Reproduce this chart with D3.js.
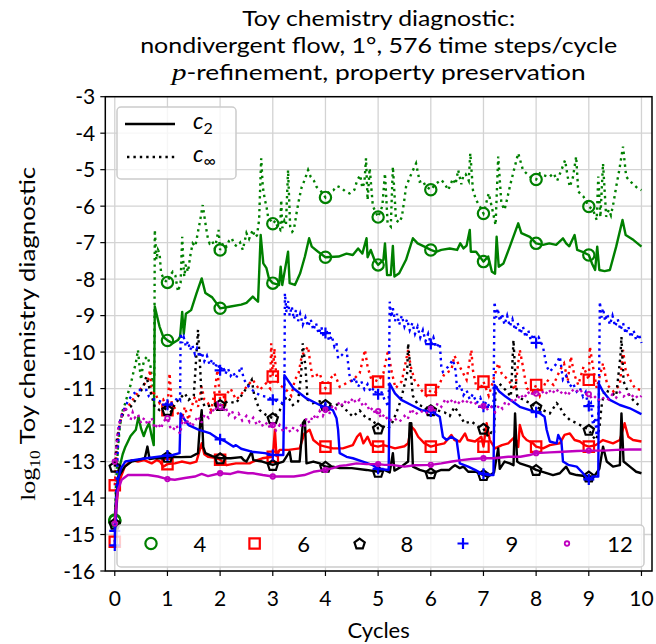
<!DOCTYPE html>
<html><head><meta charset="utf-8">
<script src="https://cdn.jsdelivr.net/npm/d3@7"></script>
<style>body{margin:0;background:#fff}svg text{font-family:Lato,"Noto Sans",sans-serif;fill:#000}</style>
</head><body><svg id="c" width="656" height="644"></svg>
<script>
const xTicks=[0,1,2,3,4,5,6,7,8,9,10];
const yTicks=[-16,-15,-14,-13,-12,-11,-10,-9,-8,-7,-6,-5,-4,-3];
const orders=["4","6","8","9","12"];
const markerCycles=[0,1,2,3,4,5,6,7,8,9];

const green_c2=[[0,-14.63],[0.03,-14.0],[0.06,-13.5],[0.1,-13.1],[0.15,-12.8],[0.2,-12.6],[0.3,-12.3],[0.4,-12.13],[0.45,-11.77],[0.5,-12.1],[0.55,-12.3],[0.6,-12.1],[0.65,-11.95],[0.7,-12.3],[0.74,-12.55],[0.76,-8.75],[0.8,-9.0],[0.85,-9.3],[0.92,-9.58],[1.0,-9.68],[1.1,-9.76],[1.2,-9.67],[1.24,-9.58],[1.28,-8.9],[1.31,-9.5],[1.35,-8.95],[1.45,-8.85],[1.55,-8.4],[1.65,-7.98],[1.72,-8.38],[1.85,-8.5],[2.0,-8.8],[2.2,-8.75],[2.4,-8.7],[2.5,-8.65],[2.62,-8.48],[2.72,-8.62],[2.77,-6.79],[2.82,-7.57],[2.88,-7.7],[2.93,-8.0],[3.0,-8.11],[3.12,-8.16],[3.15,-7.66],[3.18,-8.16],[3.29,-7.25],[3.32,-8.11],[3.42,-8.16],[3.52,-7.84],[3.61,-7.38],[3.69,-6.88],[3.74,-7.11],[3.86,-7.25],[4.0,-7.4],[4.25,-7.38],[4.4,-7.3],[4.52,-7.34],[4.62,-7.16],[4.7,-7.3],[4.78,-6.88],[4.8,-7.4],[4.86,-7.2],[4.93,-7.47],[5.0,-7.61],[5.1,-7.47],[5.13,-7.02],[5.17,-7.89],[5.24,-7.89],[5.28,-7.09],[5.31,-7.93],[5.4,-7.84],[5.53,-7.47],[5.66,-6.88],[5.75,-7.02],[5.88,-7.11],[6.0,-7.2],[6.1,-7.25],[6.2,-7.2],[6.36,-7.16],[6.5,-7.2],[6.56,-7.02],[6.62,-7.16],[6.68,-7.08],[6.74,-6.65],[6.76,-7.25],[6.86,-7.25],[7.0,-7.52],[7.09,-7.38],[7.16,-7.8],[7.22,-7.85],[7.25,-6.84],[7.29,-7.66],[7.38,-7.57],[7.5,-7.11],[7.66,-6.47],[7.72,-6.74],[7.88,-6.84],[8.0,-7.02],[8.13,-7.06],[8.25,-7.02],[8.38,-7.06],[8.51,-6.88],[8.57,-7.02],[8.63,-7.1],[8.73,-6.79],[8.78,-7.2],[8.88,-7.25],[9.0,-7.34],[9.06,-7.57],[9.12,-7.75],[9.16,-7.11],[9.2,-7.75],[9.3,-7.78],[9.4,-7.75],[9.52,-7.11],[9.64,-6.38],[9.7,-6.79],[9.85,-6.93],[10.0,-7.11]];
const green_cinf=[[0,-14.6],[0.03,-13.5],[0.06,-12.6],[0.1,-12.0],[0.15,-11.6],[0.2,-11.4],[0.25,-11.13],[0.3,-10.9],[0.35,-10.58],[0.4,-10.3],[0.44,-9.94],[0.47,-10.4],[0.5,-10.76],[0.53,-10.4],[0.56,-10.21],[0.62,-10.12],[0.68,-10.4],[0.72,-10.94],[0.75,-10.7],[0.76,-6.65],[0.79,-7.47],[0.82,-7.2],[0.85,-7.29],[0.88,-7.84],[0.94,-8.02],[1.0,-8.09],[1.05,-7.9],[1.1,-7.8],[1.15,-7.9],[1.2,-8.34],[1.25,-8.1],[1.28,-6.84],[1.3,-7.5],[1.32,-7.93],[1.35,-7.6],[1.39,-7.8],[1.44,-7.3],[1.48,-7.02],[1.53,-7.1],[1.58,-6.7],[1.62,-6.4],[1.67,-5.97],[1.73,-6.56],[1.77,-6.9],[1.8,-7.02],[1.85,-6.95],[1.9,-7.16],[1.97,-6.65],[2.0,-7.2],[2.06,-7.0],[2.12,-7.11],[2.17,-6.95],[2.22,-6.88],[2.27,-7.05],[2.32,-7.1],[2.38,-7.0],[2.43,-7.2],[2.5,-6.74],[2.55,-6.9],[2.62,-6.65],[2.66,-6.85],[2.7,-6.8],[2.74,-6.38],[2.78,-4.69],[2.81,-5.47],[2.85,-5.83],[2.88,-6.0],[2.91,-6.29],[3.0,-6.48],[3.05,-6.4],[3.1,-6.6],[3.14,-6.65],[3.16,-5.83],[3.18,-6.6],[3.22,-6.4],[3.25,-6.5],[3.29,-5.01],[3.33,-6.56],[3.37,-6.7],[3.4,-6.65],[3.45,-6.2],[3.5,-5.8],[3.55,-5.47],[3.6,-5.3],[3.67,-5.01],[3.72,-5.2],[3.78,-5.3],[3.83,-5.47],[3.92,-5.6],[4.0,-5.76],[4.07,-5.6],[4.15,-5.56],[4.22,-5.45],[4.3,-5.5],[4.38,-5.6],[4.46,-5.65],[4.55,-5.55],[4.6,-5.3],[4.66,-5.15],[4.7,-5.5],[4.74,-5.35],[4.77,-4.69],[4.8,-5.83],[4.84,-4.96],[4.9,-6.0],[5.0,-6.3],[5.08,-6.0],[5.13,-5.1],[5.18,-6.47],[5.24,-6.56],[5.28,-4.92],[5.34,-6.38],[5.4,-6.45],[5.45,-6.3],[5.5,-5.8],[5.53,-5.47],[5.62,-5.15],[5.72,-4.83],[5.79,-5.33],[5.85,-5.3],[5.9,-5.45],[6.0,-5.55],[6.1,-5.38],[6.2,-5.28],[6.27,-5.4],[6.33,-5.56],[6.42,-5.25],[6.47,-5.4],[6.52,-5.01],[6.58,-5.4],[6.62,-5.15],[6.66,-5.12],[6.72,-5.3],[6.75,-4.55],[6.8,-5.56],[6.86,-5.83],[6.93,-6.0],[7.0,-6.2],[7.1,-5.65],[7.17,-6.1],[7.23,-6.52],[7.28,-4.64],[7.34,-5.92],[7.4,-6.1],[7.45,-5.8],[7.5,-5.47],[7.58,-5.0],[7.66,-4.55],[7.75,-5.01],[7.88,-5.19],[8.0,-5.27],[8.07,-5.1],[8.13,-5.15],[8.25,-5.2],[8.33,-5.1],[8.4,-5.3],[8.48,-5.01],[8.55,-4.74],[8.6,-5.2],[8.64,-5.47],[8.7,-5.2],[8.76,-4.64],[8.8,-5.6],[8.9,-5.74],[9.0,-6.01],[9.08,-6.1],[9.15,-6.38],[9.18,-5.19],[9.22,-6.3],[9.27,-4.83],[9.33,-6.29],[9.38,-6.1],[9.42,-6.25],[9.47,-5.9],[9.52,-5.47],[9.58,-5.0],[9.65,-4.37],[9.71,-5.19],[9.77,-5.3],[9.83,-5.38],[9.92,-5.5],[10.0,-5.56]];
const red_c2=[[0,-15.2],[0.03,-14.3],[0.07,-13.6],[0.19,-13.14],[0.32,-12.96],[0.44,-13.0],[0.56,-12.96],[0.7,-13.05],[0.8,-12.96],[0.86,-13.0],[0.92,-13.14],[1.0,-13.07],[1.14,-13.05],[1.27,-13.0],[1.43,-13.05],[1.55,-13.0],[1.65,-12.5],[1.7,-12.8],[1.77,-12.87],[1.9,-12.9],[2.0,-12.95],[2.12,-13.1],[2.3,-13.05],[2.56,-13.05],[2.63,-13.0],[2.8,-12.91],[3.0,-12.87],[3.04,-12.13],[3.07,-12.85],[3.13,-12.68],[3.3,-12.68],[3.51,-12.64],[3.6,-12.23],[3.7,-12.13],[3.77,-12.41],[3.89,-12.55],[4.0,-12.59],[4.14,-12.64],[4.33,-12.64],[4.52,-12.55],[4.6,-12.32],[4.66,-12.23],[4.72,-12.5],[4.8,-12.32],[4.87,-12.55],[5.0,-12.59],[5.1,-12.55],[5.23,-12.6],[5.32,-12.64],[5.5,-12.58],[5.57,-12.5],[5.63,-12.04],[5.69,-12.13],[5.76,-12.32],[5.88,-12.5],[6.0,-12.59],[6.1,-12.55],[6.26,-12.5],[6.39,-12.27],[6.45,-12.41],[6.55,-12.45],[6.65,-12.23],[6.7,-12.41],[6.84,-12.45],[6.96,-12.32],[7.0,-12.59],[7.06,-11.95],[7.12,-12.41],[7.22,-12.64],[7.35,-12.55],[7.47,-12.5],[7.6,-12.32],[7.66,-12.6],[7.69,-12.0],[7.75,-12.3],[7.82,-12.41],[7.94,-12.5],[8.0,-12.59],[8.13,-12.64],[8.26,-12.55],[8.45,-12.5],[8.54,-12.27],[8.64,-12.23],[8.73,-12.41],[8.83,-12.45],[8.92,-12.55],[9.0,-12.59],[9.13,-12.55],[9.27,-12.41],[9.46,-12.5],[9.59,-12.41],[9.68,-11.95],[9.75,-12.32],[9.84,-12.41],[10.0,-12.45]];
const red_cinf=[[0,-13.65],[0.03,-12.8],[0.08,-12.1],[0.15,-11.6],[0.25,-11.5],[0.38,-11.22],[0.5,-10.99],[0.63,-10.76],[0.67,-10.49],[0.7,-11.2],[0.76,-11.1],[0.85,-11.4],[0.92,-11.3],[1.0,-11.59],[1.04,-10.58],[1.08,-11.4],[1.2,-11.68],[1.27,-11.86],[1.33,-11.5],[1.4,-11.86],[1.46,-11.5],[1.52,-11.22],[1.58,-11.5],[1.65,-10.95],[1.7,-11.3],[1.77,-11.4],[1.83,-11.6],[1.9,-11.04],[1.95,-10.49],[2.0,-11.31],[2.1,-11.2],[2.2,-11.0],[2.3,-11.3],[2.37,-11.22],[2.5,-10.95],[2.62,-10.76],[2.75,-11.04],[2.87,-10.86],[2.95,-11.0],[2.97,-9.76],[3.0,-10.67],[3.03,-9.9],[3.07,-10.76],[3.13,-10.9],[3.26,-11.04],[3.35,-11.2],[3.42,-10.76],[3.49,-10.58],[3.55,-10.1],[3.67,-9.85],[3.72,-10.4],[3.76,-10.7],[3.89,-10.58],[3.95,-10.85],[4.0,-10.99],[4.08,-10.76],[4.17,-10.58],[4.27,-10.95],[4.4,-10.85],[4.52,-10.76],[4.65,-10.58],[4.75,-9.94],[4.8,-10.4],[4.86,-10.7],[5.0,-10.81],[5.1,-10.58],[5.19,-9.94],[5.25,-10.5],[5.33,-10.99],[5.45,-10.8],[5.57,-9.94],[5.62,-10.4],[5.69,-10.76],[5.82,-11.04],[5.92,-11.2],[6.0,-11.04],[6.1,-11.1],[6.2,-10.76],[6.26,-10.6],[6.39,-10.49],[6.45,-10.1],[6.55,-10.4],[6.68,-10.76],[6.77,-9.94],[6.8,-10.5],[6.87,-10.99],[6.93,-11.04],[7.0,-10.81],[7.1,-11.2],[7.22,-10.6],[7.28,-10.31],[7.35,-10.6],[7.47,-10.76],[7.6,-11.04],[7.69,-9.94],[7.75,-10.4],[7.82,-10.99],[7.94,-11.1],[8.0,-10.9],[8.07,-11.2],[8.2,-10.76],[8.33,-10.9],[8.45,-10.5],[8.53,-10.31],[8.6,-10.8],[8.66,-10.12],[8.72,-10.6],[8.8,-10.9],[8.9,-10.4],[9.0,-10.76],[9.02,-9.85],[9.08,-10.4],[9.15,-10.99],[9.27,-10.31],[9.35,-10.9],[9.47,-11.08],[9.59,-10.9],[9.65,-9.94],[9.7,-10.5],[9.8,-10.8],[9.88,-11.0],[10.0,-11.04]];
const black_c2=[[0,-14.7],[0.03,-13.9],[0.07,-13.41],[0.19,-13.14],[0.32,-13.0],[0.44,-12.96],[0.57,-12.91],[0.62,-12.59],[0.66,-12.93],[0.75,-12.91],[0.89,-12.91],[1.0,-12.87],[1.26,-12.88],[1.45,-12.87],[1.58,-12.77],[1.61,-12.13],[1.65,-11.59],[1.68,-12.6],[1.72,-12.77],[1.85,-12.85],[2.0,-12.91],[2.2,-12.91],[2.4,-12.88],[2.45,-12.96],[2.5,-13.0],[2.6,-12.73],[2.63,-12.96],[2.8,-13.0],[3.0,-13.09],[3.2,-13.0],[3.32,-12.73],[3.35,-13.0],[3.51,-13.0],[3.57,-11.95],[3.61,-11.86],[3.64,-13.05],[3.77,-13.0],[3.89,-13.05],[4.0,-13.14],[4.14,-13.14],[4.27,-13.18],[4.5,-13.18],[4.78,-13.23],[5.0,-13.28],[5.12,-13.23],[5.22,-13.3],[5.28,-12.77],[5.31,-13.25],[5.44,-13.14],[5.57,-13.0],[5.6,-11.95],[5.63,-11.95],[5.66,-13.14],[5.79,-13.23],[6.0,-13.32],[6.1,-13.28],[6.2,-13.23],[6.35,-13.23],[6.42,-13.14],[6.46,-13.1],[6.55,-13.18],[6.62,-13.14],[6.71,-13.28],[6.85,-13.28],[7.0,-13.37],[7.09,-13.41],[7.2,-13.3],[7.28,-12.64],[7.31,-13.2],[7.4,-13.0],[7.5,-13.05],[7.57,-13.1],[7.6,-11.68],[7.64,-13.0],[7.69,-13.05],[7.88,-13.14],[8.0,-13.23],[8.2,-13.32],[8.32,-13.37],[8.45,-13.32],[8.51,-13.23],[8.57,-13.14],[8.64,-13.32],[8.77,-13.37],[9.0,-13.41],[9.1,-13.41],[9.2,-13.2],[9.27,-12.59],[9.34,-13.0],[9.46,-13.14],[9.59,-13.1],[9.62,-11.68],[9.66,-13.0],[9.78,-13.14],[9.9,-13.28],[10.0,-13.32]];
const black_cinf=[[0,-13.14],[0.04,-12.4],[0.1,-11.9],[0.19,-11.59],[0.3,-11.5],[0.44,-11.22],[0.54,-10.95],[0.6,-10.67],[0.66,-11.0],[0.76,-11.5],[0.85,-11.59],[0.95,-11.55],[1.07,-11.63],[1.15,-11.4],[1.33,-11.13],[1.4,-11.31],[1.5,-11.2],[1.58,-9.39],[1.62,-10.4],[1.65,-11.3],[1.71,-11.5],[1.85,-11.45],[1.97,-11.4],[2.0,-11.45],[2.15,-11.35],[2.3,-11.4],[2.45,-11.1],[2.6,-10.76],[2.65,-11.2],[2.75,-11.59],[2.87,-11.72],[3.0,-11.81],[3.13,-11.6],[3.26,-11.22],[3.32,-11.3],[3.38,-11.45],[3.48,-11.35],[3.54,-10.58],[3.57,-9.76],[3.62,-10.4],[3.66,-11.3],[3.76,-11.4],[3.89,-11.35],[4.0,-11.45],[4.14,-11.5],[4.27,-11.4],[4.4,-11.6],[4.52,-11.77],[4.65,-11.6],[4.78,-11.82],[4.9,-11.86],[5.0,-12.09],[5.1,-12.04],[5.19,-12.1],[5.28,-11.9],[5.39,-11.5],[5.45,-11.2],[5.55,-10.6],[5.57,-9.76],[5.62,-10.6],[5.66,-11.2],[5.76,-11.45],[5.89,-11.5],[6.0,-11.59],[6.13,-11.6],[6.26,-11.65],[6.36,-11.75],[6.45,-11.5],[6.52,-11.65],[6.64,-11.95],[6.77,-11.9],[6.9,-12.04],[7.0,-12.1],[7.09,-12.32],[7.15,-12.2],[7.2,-12.25],[7.23,-11.0],[7.3,-10.86],[7.42,-11.04],[7.52,-11.22],[7.57,-9.67],[7.6,-10.5],[7.64,-11.22],[7.75,-11.3],[7.88,-11.4],[8.0,-11.5],[8.13,-11.59],[8.26,-11.68],[8.39,-11.4],[8.45,-11.5],[8.51,-11.68],[8.64,-11.86],[8.77,-11.95],[8.89,-12.04],[9.0,-12.13],[9.08,-12.32],[9.14,-12.41],[9.2,-12.1],[9.24,-11.5],[9.3,-11.04],[9.4,-11.1],[9.52,-11.2],[9.6,-10.12],[9.62,-9.58],[9.66,-10.8],[9.78,-11.22],[9.9,-11.4],[10.0,-11.5]];
const blue_c2=[[0,-15.3],[0.03,-14.2],[0.06,-13.5],[0.12,-13.18],[0.2,-13.0],[0.35,-12.96],[0.6,-12.91],[0.9,-12.85],[1.1,-12.82],[1.23,-12.77],[1.25,-11.68],[1.3,-11.8],[1.4,-12.0],[1.6,-12.13],[1.8,-12.22],[1.95,-12.36],[2.1,-12.45],[2.25,-12.59],[2.3,-12.55],[2.4,-12.65],[2.6,-12.73],[2.85,-12.77],[3.0,-12.82],[3.2,-12.82],[3.22,-10.63],[3.39,-10.99],[3.64,-11.27],[3.89,-11.45],[4.14,-11.59],[4.21,-11.81],[4.24,-12.13],[4.27,-12.77],[4.4,-12.87],[4.52,-12.91],[4.71,-13.0],[4.9,-13.1],[5.0,-13.2],[5.2,-13.23],[5.22,-10.86],[5.32,-11.13],[5.44,-11.31],[5.63,-11.45],[5.82,-11.59],[6.01,-11.63],[6.17,-11.77],[6.23,-12.32],[6.3,-12.41],[6.39,-12.32],[6.49,-12.41],[6.52,-12.73],[6.55,-13.05],[6.71,-13.14],[6.84,-13.23],[6.96,-13.32],[7.09,-13.37],[7.19,-13.37],[7.21,-10.9],[7.3,-11.08],[7.42,-11.22],[7.5,-11.3],[7.69,-11.5],[7.88,-11.59],[8.07,-11.68],[8.16,-11.77],[8.2,-12.13],[8.26,-12.45],[8.39,-12.5],[8.42,-12.27],[8.48,-12.45],[8.51,-13.0],[8.61,-13.09],[8.77,-13.14],[8.89,-13.32],[8.99,-13.5],[9.08,-13.41],[9.18,-13.41],[9.19,-10.86],[9.27,-11.08],[9.4,-11.31],[9.59,-11.45],[9.78,-11.54],[9.97,-11.68],[10.0,-11.7]];
const blue_cinf=[[0,-14.9],[0.03,-13.78],[0.06,-12.59],[0.09,-11.95],[0.14,-11.68],[0.2,-11.5],[0.26,-11.31],[0.35,-11.15],[0.45,-11.04],[0.6,-11.04],[0.65,-11.22],[0.76,-11.31],[0.89,-11.36],[1.01,-11.45],[1.14,-11.36],[1.2,-11.22],[1.24,-11.3],[1.25,-9.48],[1.28,-9.75],[1.31,-9.6],[1.35,-9.85],[1.39,-9.7],[1.43,-9.95],[1.47,-9.8],[1.52,-10.05],[1.56,-9.9],[1.61,-10.15],[1.65,-10.0],[1.7,-10.25],[1.75,-10.1],[1.8,-10.35],[1.85,-10.2],[1.9,-10.42],[1.95,-10.3],[2.0,-10.5],[2.05,-10.38],[2.1,-10.6],[2.15,-10.45],[2.2,-10.65],[2.25,-10.55],[2.3,-10.72],[2.34,-10.6],[2.4,-10.4],[2.45,-10.75],[2.5,-10.85],[2.56,-10.99],[2.62,-11.05],[2.69,-11.13],[2.78,-11.2],[2.88,-11.22],[3.01,-11.31],[3.1,-11.35],[3.17,-11.4],[3.22,-11.3],[3.23,-8.39],[3.26,-8.9],[3.29,-8.6],[3.32,-9.0],[3.36,-8.75],[3.4,-9.1],[3.44,-8.85],[3.48,-9.15],[3.52,-8.95],[3.57,-9.25],[3.62,-9.05],[3.67,-9.3],[3.72,-9.1],[3.77,-9.4],[3.82,-9.2],[3.87,-9.5],[3.92,-9.3],[3.97,-9.6],[4.02,-9.4],[4.07,-9.7],[4.12,-9.55],[4.17,-9.85],[4.21,-9.75],[4.24,-10.17],[4.3,-10.1],[4.4,-9.94],[4.46,-10.67],[4.52,-10.85],[4.56,-10.7],[4.62,-10.95],[4.68,-10.8],[4.74,-11.02],[4.8,-10.88],[4.86,-11.1],[4.92,-10.98],[4.98,-11.2],[5.05,-11.05],[5.12,-11.3],[5.2,-11.5],[5.22,-8.62],[5.25,-9.05],[5.28,-8.8],[5.32,-9.15],[5.36,-8.95],[5.4,-9.25],[5.45,-9.0],[5.5,-9.3],[5.55,-9.1],[5.6,-9.4],[5.65,-9.2],[5.7,-9.5],[5.75,-9.3],[5.8,-9.6],[5.85,-9.4],[5.9,-9.7],[5.95,-9.5],[6.0,-9.78],[6.05,-9.6],[6.1,-9.88],[6.17,-9.75],[6.2,-10.4],[6.23,-10.54],[6.33,-10.4],[6.42,-10.21],[6.47,-10.5],[6.5,-11.04],[6.56,-10.9],[6.62,-11.18],[6.68,-11.05],[6.74,-11.3],[6.8,-11.15],[6.87,-11.4],[6.94,-11.25],[7.0,-11.5],[7.06,-11.35],[7.13,-11.55],[7.19,-11.45],[7.21,-8.62],[7.24,-9.05],[7.27,-8.8],[7.31,-9.15],[7.35,-8.95],[7.4,-9.25],[7.45,-9.0],[7.5,-9.3],[7.55,-9.1],[7.6,-9.4],[7.65,-9.2],[7.7,-9.5],[7.75,-9.3],[7.8,-9.6],[7.85,-9.4],[7.9,-9.68],[7.95,-9.5],[8.0,-9.75],[8.05,-9.6],[8.13,-9.85],[8.2,-10.4],[8.26,-10.54],[8.39,-10.31],[8.45,-10.12],[8.51,-10.76],[8.57,-10.65],[8.64,-10.95],[8.7,-10.85],[8.77,-11.08],[8.83,-10.98],[8.89,-11.22],[8.94,-11.1],[8.99,-11.5],[9.04,-11.4],[9.08,-12.0],[9.12,-11.8],[9.15,-12.3],[9.19,-11.5],[9.21,-8.62],[9.24,-9.05],[9.27,-8.8],[9.31,-9.15],[9.35,-8.95],[9.4,-9.25],[9.45,-9.0],[9.5,-9.3],[9.55,-9.1],[9.6,-9.4],[9.65,-9.2],[9.7,-9.5],[9.75,-9.3],[9.8,-9.6],[9.85,-9.4],[9.9,-9.68],[9.95,-9.5],[10.0,-9.75]];
const magenta_c2=[[0,-14.7],[0.03,-14.1],[0.06,-13.78],[0.13,-13.5],[0.25,-13.37],[0.44,-13.37],[0.63,-13.37],[0.82,-13.41],[1.0,-13.48],[1.14,-13.5],[1.33,-13.45],[1.52,-13.41],[1.65,-13.34],[1.77,-13.4],[2.0,-13.32],[2.2,-13.34],[2.34,-13.28],[2.53,-13.32],[2.62,-13.32],[2.81,-13.37],[3.0,-13.41],[3.2,-13.41],[3.4,-13.41],[3.6,-13.37],[3.77,-13.28],[4.0,-13.23],[4.14,-13.18],[4.27,-13.12],[4.4,-13.1],[4.59,-13.05],[4.78,-13.07],[5.0,-13.07],[5.12,-13.09],[5.25,-13.09],[5.5,-13.14],[5.7,-13.1],[6.0,-13.09],[6.2,-13.05],[6.4,-13.0],[6.58,-12.96],[6.77,-12.93],[7.0,-12.91],[7.2,-12.91],[7.47,-12.87],[7.7,-12.87],[7.88,-12.82],[8.0,-12.77],[8.26,-12.75],[8.51,-12.73],[8.77,-12.71],[9.0,-12.7],[9.27,-12.7],[9.52,-12.68],[9.78,-12.67],[10.0,-12.67]];
const magenta_cinf=[[0,-13.0],[0.03,-12.6],[0.06,-12.13],[0.1,-11.86],[0.15,-11.7],[0.2,-11.5],[0.25,-11.7],[0.3,-11.86],[0.34,-11.65],[0.38,-11.8],[0.44,-11.7],[0.5,-11.95],[0.56,-11.8],[0.63,-12.0],[0.7,-11.8],[0.76,-12.1],[0.82,-11.95],[0.88,-12.1],[0.92,-11.9],[1.0,-11.81],[1.05,-12.05],[1.1,-12.15],[1.17,-12.0],[1.24,-12.25],[1.3,-11.77],[1.35,-12.0],[1.4,-11.85],[1.46,-12.05],[1.52,-11.9],[1.58,-11.75],[1.64,-11.95],[1.71,-11.7],[1.78,-11.8],[1.84,-11.55],[1.9,-11.65],[1.95,-11.4],[2.0,-11.5],[2.05,-11.65],[2.1,-11.5],[2.16,-11.72],[2.22,-11.6],[2.28,-11.8],[2.35,-11.68],[2.42,-11.88],[2.5,-11.75],[2.56,-11.92],[2.63,-11.8],[2.7,-12.0],[2.76,-11.88],[2.82,-12.05],[2.9,-11.92],[2.95,-12.1],[3.0,-12.0],[3.06,-12.15],[3.13,-12.0],[3.2,-12.18],[3.27,-12.05],[3.34,-12.2],[3.4,-12.05],[3.47,-12.15],[3.55,-11.98],[3.6,-12.05],[3.64,-11.8],[3.7,-11.95],[3.77,-11.72],[3.83,-11.85],[3.89,-11.62],[3.95,-11.75],[4.0,-11.58],[4.07,-11.7],[4.14,-11.45],[4.2,-11.55],[4.27,-11.35],[4.33,-11.48],[4.4,-11.3],[4.46,-11.42],[4.52,-11.25],[4.58,-11.4],[4.65,-11.3],[4.72,-11.5],[4.78,-11.4],[4.84,-11.62],[4.9,-11.52],[4.95,-11.72],[5.0,-11.62],[5.06,-11.82],[5.12,-11.7],[5.2,-11.9],[5.3,-11.8],[5.4,-11.92],[5.5,-11.75],[5.56,-11.85],[5.63,-11.55],[5.7,-11.72],[5.8,-11.6],[5.9,-11.7],[6.0,-11.55],[6.06,-11.65],[6.13,-11.4],[6.2,-11.5],[6.28,-11.28],[6.35,-11.42],[6.42,-11.28],[6.5,-11.45],[6.58,-11.3],[6.65,-11.42],[6.72,-11.3],[6.8,-11.45],[6.88,-11.38],[6.95,-11.55],[7.02,-11.45],[7.09,-11.6],[7.15,-11.5],[7.22,-11.65],[7.3,-11.45],[7.36,-11.55],[7.42,-11.35],[7.5,-11.45],[7.56,-11.25],[7.63,-11.35],[7.7,-11.15],[7.77,-11.28],[7.84,-11.08],[7.9,-11.2],[7.96,-11.05],[8.03,-11.2],[8.1,-11.05],[8.17,-11.18],[8.24,-11.02],[8.3,-11.15],[8.38,-11.0],[8.45,-11.15],[8.52,-11.05],[8.6,-11.2],[8.67,-11.02],[8.75,-11.12],[8.82,-11.0],[8.9,-11.15],[9.0,-11.15],[9.07,-11.3],[9.14,-11.2],[9.22,-11.35],[9.3,-11.22],[9.38,-11.3],[9.45,-11.15],[9.52,-11.25],[9.59,-11.1],[9.66,-11.22],[9.73,-11.12],[9.8,-11.25],[9.87,-11.15],[9.94,-11.28],[10.0,-11.2]];

const series=[
 {name:"4",color:"#008000",marker:"circle",c2:green_c2,cinf:green_cinf},
 {name:"6",color:"#ff0000",marker:"square",c2:red_c2,cinf:red_cinf},
 {name:"8",color:"#000000",marker:"pentagon",c2:black_c2,cinf:black_cinf},
 {name:"9",color:"#0000ff",marker:"plus",c2:blue_c2,cinf:blue_cinf},
 {name:"12",color:"#bf00bf",marker:"smallcircle",c2:magenta_c2,cinf:magenta_cinf}
];

const svg=d3.select("#c");
const L=105.3,R=652,T=96.7,B=571;
const x=d3.scaleLinear().domain([-0.18,10.2]).range([L,R]);
const y=d3.scaleLinear().domain([-16,-3]).range([B,T]);
const LW=2.4, DASH="2.4,4";

const g=svg.append("g");
g.selectAll(".gx").data(xTicks).enter().append("line").attr("x1",d=>x(d)).attr("x2",d=>x(d)).attr("y1",T).attr("y2",B).attr("stroke","#d3d3d3").attr("stroke-width",1.3);
g.selectAll(".gy").data(yTicks).enter().append("line").attr("y1",d=>y(d)).attr("y2",d=>y(d)).attr("x1",L).attr("x2",R).attr("stroke","#d3d3d3").attr("stroke-width",1.3);

svg.append("clipPath").attr("id","clip").append("rect").attr("x",L).attr("y",T).attr("width",R-L).attr("height",B-T);
const plot=svg.append("g").attr("clip-path","url(#clip)");
const line=d3.line().x(d=>x(d[0])).y(d=>y(d[1]));

function markerPath(type){
  if(type==="circle") return d3.symbol(d3.symbolCircle,100)();
  if(type==="square") return "M-5.2,-5.2H5.2V5.2H-5.2Z";
  if(type==="pentagon"){const pts=d3.range(5).map(k=>{const a=-Math.PI/2+k*2*Math.PI/5;return [5.4*Math.cos(a),5.4*Math.sin(a)+0.6];});return "M"+pts.join("L")+"Z";}
  if(type==="plus") return "M-5.5,0H5.5M0,-5.5V5.5";
  if(type==="smallcircle") return d3.symbol(d3.symbolCircle,16)();
}
const bis=d3.bisector(d=>d[0]).left;
function valAt(arr,xv){let i=bis(arr,xv);if(i<=0)return arr[0][1];if(i>=arr.length)return arr[arr.length-1][1];const a=arr[i-1],b=arr[i];if(b[0]===xv)return b[1];return a[1]+(b[1]-a[1])*(xv-a[0])/(b[0]-a[0]);}
function drawMarkers(parent,s,arr){
  parent.selectAll(null).data(markerCycles).enter().append("path")
   .attr("d",markerPath(s.marker)).attr("transform",d=>`translate(${x(d)},${y(valAt(arr,d))})`)
   .attr("fill","none").attr("stroke",s.color).attr("stroke-width",s.marker==="smallcircle"?1.8:2.2);
}
series.forEach(s=>{
  plot.append("path").attr("d",line(s.cinf)).attr("fill","none").attr("stroke",s.color).attr("stroke-width",LW).attr("stroke-dasharray",DASH);
  drawMarkers(plot,s,s.cinf);
  plot.append("path").attr("d",line(s.c2)).attr("fill","none").attr("stroke",s.color).attr("stroke-width",LW).attr("stroke-linejoin","round");
  drawMarkers(plot,s,s.c2);
});

svg.append("rect").attr("x",L).attr("y",T).attr("width",R-L).attr("height",B-T).attr("fill","none").attr("stroke","#000").attr("stroke-width",1.5);
svg.selectAll(".tx").data(xTicks).enter().append("line").attr("x1",d=>x(d)).attr("x2",d=>x(d)).attr("y1",B).attr("y2",B+5).attr("stroke","#000").attr("stroke-width",1.2);
svg.selectAll(".ty").data(yTicks).enter().append("line").attr("y1",d=>y(d)).attr("y2",d=>y(d)).attr("x1",L-5).attr("x2",L).attr("stroke","#000").attr("stroke-width",1.2);
svg.selectAll(".lx").data(xTicks).enter().append("text").attr("x",d=>x(d)).attr("y",B+35).attr("text-anchor","middle").attr("font-size",21).text(d=>d);
svg.selectAll(".ly").data(yTicks).enter().append("text").attr("x",L-10).attr("y",d=>y(d)+7.5).attr("text-anchor","end").attr("font-size",21).text(d=>"-"+Math.abs(d));

svg.append("text").attr("x",(L+R)/2).attr("y",638).attr("text-anchor","middle").attr("font-size",22).text("Cycles");

// y label centred on the axes, stretched to the reference length
const yl=svg.append("text").attr("transform",`translate(35,${(T+B)/2}) rotate(-90)`).attr("text-anchor","middle").attr("font-size",22)
  .attr("textLength",334).attr("lengthAdjust","spacingAndGlyphs");
yl.append("tspan").attr("font-family","Liberation Serif,serif").text("log");
yl.append("tspan").attr("font-size",15).attr("dy",5).attr("font-family","Liberation Serif,serif").text("10");
yl.append("tspan").attr("dy",-5).text(" Toy chemistry diagnostic");

// title: Lato stretched horizontally to the reference widths
const cx=(L+R)/2;
const t1=svg.append("text").attr("x",cx).attr("y",26).attr("text-anchor","middle").attr("font-size",20.5)
  .attr("textLength",273).attr("lengthAdjust","spacingAndGlyphs").text("Toy chemistry diagnostic:");
const t2=svg.append("text").attr("x",cx).attr("y",53).attr("text-anchor","middle").attr("font-size",20.5)
  .attr("textLength",477).attr("lengthAdjust","spacingAndGlyphs").text("nondivergent flow, 1°, 576 time steps/cycle");
const t3=svg.append("text").attr("x",cx).attr("y",80).attr("text-anchor","middle").attr("font-size",20.5)
  .attr("textLength",414).attr("lengthAdjust","spacingAndGlyphs");
t3.append("tspan").attr("font-family","Liberation Serif,serif").attr("font-style","italic").attr("font-size",23).text("p");
t3.append("tspan").text("-refinement, property preservation");

const lg1=svg.append("g");
lg1.append("rect").attr("x",117).attr("y",107).attr("width",119).attr("height",72).attr("rx",4).attr("fill","#fff").attr("fill-opacity",0.8).attr("stroke","#cccccc").attr("stroke-width",1.5);
lg1.append("line").attr("x1",125).attr("x2",175).attr("y1",124).attr("y2",124).attr("stroke","#000").attr("stroke-width",LW);
lg1.append("line").attr("x1",127).attr("x2",175).attr("y1",157).attr("y2",157).attr("stroke","#000").attr("stroke-width",LW).attr("stroke-dasharray",DASH);
const c2t=lg1.append("text").attr("x",193).attr("y",129).attr("font-size",23).attr("font-family","Liberation Serif,serif").attr("font-style","italic");
c2t.append("tspan").text("c");c2t.append("tspan").attr("dy",5).attr("font-size",16).attr("font-style","normal").text("2");
const cit=lg1.append("text").attr("x",193).attr("y",162).attr("font-size",23).attr("font-family","Liberation Serif,serif").attr("font-style","italic");
cit.append("tspan").text("c");cit.append("tspan").attr("dy",5).attr("font-size",17).attr("font-style","normal").text("∞");

const lg2=svg.append("g");
lg2.append("rect").attr("x",117).attr("y",525).attr("width",527).attr("height",42).attr("rx",4).attr("fill","#fff").attr("fill-opacity",0.8).attr("stroke","#cccccc").attr("stroke-width",1.5);
const mx=[151,254.6,359.6,463,567], tx=[200,303.6,407,512,620];
series.forEach((s,i)=>{
  lg2.append("path").attr("d",markerPath(s.marker)).attr("transform",`translate(${mx[i]},543.5)`).attr("fill","none").attr("stroke",s.color).attr("stroke-width",s.marker==="smallcircle"?1.8:2.2);
  lg2.append("text").attr("x",tx[i]).attr("y",551.5).attr("text-anchor","middle").attr("font-size",22).text(orders[i]);
});
</script></body></html>
